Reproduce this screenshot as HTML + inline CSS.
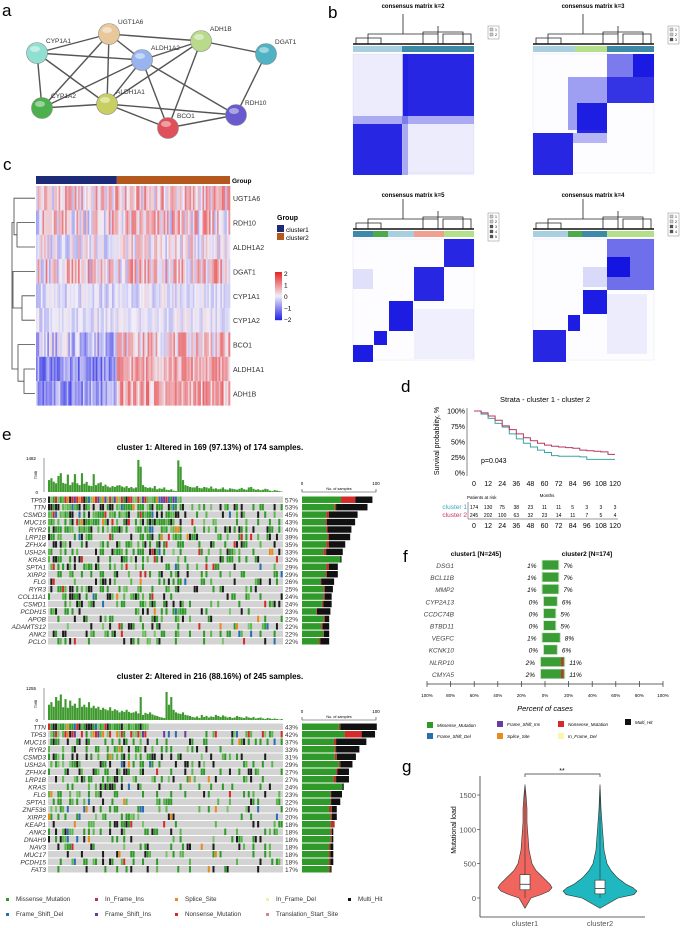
<!DOCTYPE html>
<html><head><meta charset="utf-8"><style>
body{margin:0;background:#fff}
svg{font-family:"Liberation Sans",sans-serif;display:block}
</style></head><body>
<svg id="fig" width="685" height="928" viewBox="0 0 685 928">
<rect x="0" y="0" width="685" height="928" fill="#fff"/>
<text x="2" y="16" font-size="17">a</text>
<text x="328" y="18" font-size="17">b</text>
<text x="3" y="170" font-size="17">c</text>
<text x="401" y="392" font-size="17">d</text>
<text x="2" y="440" font-size="17">e</text>
<text x="403" y="562" font-size="17">f</text>
<text x="402" y="772" font-size="17">g</text>
<g id="ga"></g>
<g id="gb"></g>
<g id="gc"></g>
<g id="gd"></g>
<g id="ge"></g>
<g id="gf"></g>
<g id="gg"></g>
</svg>
<script>
// ---------- data ----------
const netNames=["CYP1A1","UGT1A6","ALDH1A2","ADH1B","DGAT1","CYP1A2","ALDH1A1","BCO1","RDH10"];
const netX=[37,109,142,201,266,42,107,168,236];
const netY=[53,34,60,41,54,108,104,128,115];
const netCol=["#8fe0d0","#e8c79a","#98b4ef","#b8da8a","#4fb3c4","#4cb04c","#c8cf60","#e0505a","#6a5ad0"];
const netEdges=[[0,1],[0,2],[0,5],[0,6],[1,3],[1,2],[1,5],[1,6],[2,5],[2,6],[2,7],[2,8],[3,4],[3,2],[3,6],[3,7],[4,8],[5,6],[6,7],[6,8],[7,8]];

const hmGenes=["UGT1A6","RDH10","ALDH1A2","DGAT1","CYP1A1","CYP1A2","BCO1","ALDH1A1","ADH1B"];
const hmMean1=[0.3,0.2,0.0,0.3,-0.25,-0.2,-0.4,-1.0,-0.9];
const hmMean2=[0.4,0.3,0.1,0.4,-0.15,-0.1,0.4,0.7,0.7];
const hmAmp=[0.9,1.0,0.7,1.0,0.4,0.35,0.8,0.6,0.7];

const kmTimes=[0,6,12,18,24,30,36,42,48,54,60,66,72,78,84,90,96,102,108,114,120];
const kmC1=[100,95,88,80,74,63,55,48,42,37,33,28,27,27,27,26,22,22,22,22,22];
const kmC2=[100,97,92,85,76,70,63,57,52,48,45,43,42,41,40,37,36,35,34,30,30];
const kmTicks=[0,12,24,36,48,60,72,84,96,108,120];
const riskC1=[174,130,75,38,23,11,11,5,3,3,3];
const riskC2=[245,202,100,63,32,23,14,11,7,5,4];

const op1Genes=["TP53","TTN","CSMD3","MUC16","RYR2","LRP1B","ZFHX4","USH2A","KRAS","SPTA1","XIRP2","FLG","RYR3","COL11A1","CSMD1","PCDH15","APOB","ADAMTS12","ANK2","PCLO"];
const op1Pct=[57,53,45,43,40,39,35,33,32,29,29,26,25,24,24,23,22,22,22,22];
const op1Green=[55,46,34,33,34,36,34,30,54,34,33,26,30,30,28,20,30,27,30,24];
const op1Red=[20,2,4,2,2,2,4,4,0,4,2,1,2,2,2,1,2,2,1,2];
const op2Genes=["TTN","TP53","MUC16","RYR2","CSMD3","USH2A","ZFHX4","LRP1B","KRAS","FLG","SPTA1","ZNF536","XIRP2","KEAP1","ANK2","DNAH9","NAV3","MUC17","PCDH15","FAT3"];
const op2Pct=[43,42,37,33,31,29,27,27,24,23,22,20,20,18,18,18,18,18,18,17];
const op2Green=[52,60,45,46,46,52,48,44,57,40,40,38,40,40,40,40,38,38,38,38];
const op2Red=[2,24,3,2,3,2,2,4,0,1,1,4,2,6,2,2,2,2,2,2];
const tmb1=[520,600,450,380,700,820,400,360,760,300,420,780,380,300,820,360,440,280,260,780,300,380,420,260,320,240,200,260,220,280,300,240,200,260,180,220,160,200,1400,1100,300,220,180,200,160,260,120,160,140,200,100,80,120,60,40,1380,1100,520,300,260,220,200,200,260,180,160,220,200,160,240,140,160,120,140,200,120,100,160,140,120,100,140,180,120,100,200,220,140,100,120,80,100,140,120,60,40,80,60,40,20];
const tmb2=[600,700,520,900,760,1000,500,820,480,760,560,640,480,860,520,600,500,700,480,560,460,520,400,480,420,380,500,360,420,380,300,360,320,400,320,280,300,340,260,900,200,280,240,300,220,180,160,120,100,80,1100,600,900,400,300,260,240,300,200,180,160,120,100,140,80,200,120,160,100,140,120,200,160,120,180,140,100,120,80,100,160,120,100,80,140,100,80,120,60,80,100,60,40,80,60,40,60,40,20,40];

const fGenes=["DSG1","BCL11B","MMP2","CYP2A13","CCDC74B","BTBD11","VEGFC","KCNK10","NLRP10","CMYA5"];
const fPct1=[1,1,1,0,0,0,1,0,2,2];
const fPct2=[7,7,7,6,5,5,8,6,11,11];
const fTicks=["100%","80%","60%","40%","20%","0%","20%","40%","60%","80%","100%"];

const vLevels=[-150,0,50,100,150,200,300,400,500,700,900,1100,1300,1500,1650];
const vW1=[0,6,16,24,27,25,18,11,7,4,3,2,2,1,0];
const vW2=[0,18,34,37,33,26,17,11,7,4,3,2,1,0.5,0];
const vBox1=[120,200,340];
const vBox2=[60,140,260];
const vTicks=[0,500,1000,1500];

// ---------- helpers ----------
const NS='http://www.w3.org/2000/svg';
function mk(tag,at,name,par){
  const e=document.createElementNS(NS,tag);
  for(const k in at)e.setAttribute(k,at[k]);
  
  
  (par||document.getElementById('fig')).appendChild(e);return e;}
function tx(x,y,s,size,name,par,extra){const e=mk('text',Object.assign({x:x,y:y,'font-size':size},extra||{}),name,par);e.textContent=s;return e;}
function h(a,b){const x=Math.sin(a*12.9898+b*78.233)*43758.5453;return x-Math.floor(x);}

// ---------- a: network ----------
const GA=document.getElementById('ga');
netEdges.forEach(function(ed){mk('line',{x1:netX[ed[0]],y1:netY[ed[0]],x2:netX[ed[1]],y2:netY[ed[1]],stroke:'#555','stroke-width':1.4},'network-edge',GA);});
netNames.forEach(function(n,i){
  mk('circle',{cx:netX[i],cy:netY[i],r:10.5,fill:netCol[i],stroke:'#888','stroke-width':0.6},'node-'+n.toLowerCase(),GA);
  mk('ellipse',{cx:netX[i]-2,cy:netY[i]-4,rx:5,ry:3,fill:'#fff',opacity:0.45},'node-highlight',GA);
  tx(netX[i]+9,netY[i]-10,n,6.5,'node-label',GA,{fill:'#333'});
});

// ---------- b: consensus matrices ----------
const GB=document.getElementById('gb');
const cms=[
 {t:'consensus matrix k=2',x:353,y:54,s:121,bars:[[0,49,'#a8cfe0'],[49,121,'#3d8aa8']],leg:2,
  blocks:[[50,0,71,62,0.9],[0,70,49,51,0.9],[0,62,121,8,0.35],[49,0,6,121,0.3],[0,0,49,62,0.07],[50,70,71,51,0.07]]},
 {t:'consensus matrix k=3',x:533,y:54,s:121,bars:[[0,42,'#a8cfe0'],[42,74,'#b4e08c'],[74,121,'#3d8aa8']],leg:3,
  blocks:[[74,0,47,23,0.55],[100,0,21,23,0.9],[74,23,47,26,0.85],[35,23,39,53,0.4],[44,49,30,30,0.9],[0,79,40,42,0.9],[40,79,34,10,0.3]]},
 {t:'consensus matrix k=5',x:353,y:239,s:123,bars:[[0,20,'#3d8aa8'],[20,35,'#4caa4c'],[35,61,'#a8cfe0'],[61,91,'#f0a090'],[91,121,'#b4e08c']],leg:5,
  blocks:[[91,0,30,28,0.9],[61,28,30,34,0.9],[36,62,24,30,0.95],[21,92,13,14,0.95],[0,106,20,17,0.95],[0,30,20,20,0.12],[61,70,60,50,0.06]]},
 {t:'consensus matrix k=4',x:533,y:239,s:123,bars:[[0,35,'#a8cfe0'],[35,49,'#4caa4c'],[49,74,'#3d8aa8'],[74,121,'#b4e08c']],leg:4,
  blocks:[[74,0,47,51,0.6],[74,18,23,20,0.95],[50,51,24,24,0.95],[35,76,12,16,0.95],[0,91,33,32,0.9],[50,28,24,20,0.15],[74,55,40,60,0.07]]}
];
cms.forEach(function(c,ci){
  tx(c.x+60,c.y-46+(ci>1?4:0),c.t,6,'consensus-title',GB,{'text-anchor':'middle','font-weight':'bold'});
  const top=c.y-40, base=c.y-10;
  const p='M'+(c.x+15)+' '+base+'V'+(top+20)+'H'+(c.x+85)+'V'+(top+12)+'M'+(c.x+50)+' '+(top+20)+'V'+top+'M'+(c.x+85)+' '+(top+12)+'V'+base+
    'M'+(c.x+3)+' '+base+'V'+(top+24)+'H'+(c.x+28)+'V'+base+'M'+(c.x+70)+' '+base+'V'+(top+18)+'H'+(c.x+110)+'V'+base+'M'+(c.x+90)+' '+base+'V'+(base-10)+'H'+(c.x+118)+'V'+base;
  mk('path',{d:p,fill:'none',stroke:'#222','stroke-width':0.8},'consensus-dendrogram',GB);
  mk('line',{x1:c.x,y1:base,x2:c.x+121,y2:base,stroke:'#111','stroke-width':1.5},'dendrogram-leaves',GB);
  c.bars.forEach(function(b){mk('rect',{x:c.x+b[0],y:c.y-8,width:b[1]-b[0],height:6,fill:b[2]},'cluster-color-bar',GB);});
  mk('rect',{x:c.x,y:c.y,width:121,height:c.s-2,fill:'#fdfdff',stroke:'#e4e4f4','stroke-width':0.5},'consensus-matrix',GB);
  c.blocks.forEach(function(b){mk('rect',{x:c.x+b[0],y:c.y+b[1],width:b[2],height:b[3],fill:'#1010e0','fill-opacity':b[4]},'consensus-block',GB);});
  const lx=c.x+135, ly=c.y-46+ (ci>1?20:18);
  mk('rect',{x:lx,y:ly,width:11,height:c.leg*5+3,fill:'#fff',stroke:'#888','stroke-width':0.5},'consensus-legend',GB);
  for(let k=0;k<c.leg;k++){mk('rect',{x:lx+2,y:ly+2+k*5,width:3,height:3,fill:k<2?'#ccc':'#555',stroke:'#444','stroke-width':0.3},'legend-swatch',GB);tx(lx+7,ly+5+k*5,String(k+1),3.5,'legend-text',GB);}
});

// ---------- c: heatmap ----------
const GC=document.getElementById('gc');
const hx0=36,hx1=230,hy0=186,rh=24.4,nCol=120,split=50;
mk('rect',{x:hx0,y:176,width:(hx1-hx0)*split/nCol,height:8,fill:'#1c2a78'},'group-bar-cluster1',GC);
mk('rect',{x:hx0+(hx1-hx0)*split/nCol,y:176,width:(hx1-hx0)*(nCol-split)/nCol,height:8,fill:'#b4581e'},'group-bar-cluster2',GC);
tx(232,183,'Group',6.5,'group-bar-label',GC,{'font-weight':'bold'});
function hcol(v){v=Math.max(-2,Math.min(2,v));let r,g,b;
  if(v>=0){const t=v/2;r=240-10*t;g=238-198*t;b=248-208*t;}else{const t=-v/2;r=240-200*t;g=238-198*t;b=248-18*t;}
  return 'rgb('+Math.round(r)+','+Math.round(g)+','+Math.round(b)+')';}
const cw=(hx1-hx0)/nCol;
hmGenes.forEach(function(g,r){
  for(let c=0;c<nCol;c++){
    const m=c<split?hmMean1[r]:hmMean2[r];
    const v=m+(h(c,r+1)-0.5)*2*hmAmp[r];
    mk('rect',{x:(hx0+c*cw).toFixed(2),y:hy0+r*rh,width:(cw+0.3).toFixed(2),height:rh,fill:hcol(v)},'heatmap-cell',GC);
  }
  tx(233,hy0+r*rh+rh/2+3,g,7,'heatmap-row-label',GC,{fill:'#333'});
});
const ly=function(i){return hy0+i*rh+rh/2;};
const dp='M35 '+ly(4)+'H22V'+ly(5)+'H35'+'M35 '+ly(7)+'H24V'+ly(8)+'H35'+'M35 '+ly(6)+'H18V'+((ly(7)+ly(8))/2)+'H24'+
 'M35 '+ly(1)+'H17V'+ly(2)+'H35'+'M35 '+ly(0)+'H14V'+((ly(1)+ly(2))/2)+'H17'+'M35 '+ly(3)+'H13V'+((ly(4)+ly(5))/2)+'H22'+
 'M14 '+((ly(0)+ly(2))/2)+'H12V'+((ly(6)+ly(8))/2)+'H18';
mk('path',{d:dp,fill:'none',stroke:'#444','stroke-width':0.8},'row-dendrogram',GC);
tx(277,220,'Group',7,'legend-title',GC,{'font-weight':'bold'});
mk('rect',{x:277,y:225,width:7,height:7,fill:'#1c2a78'},'legend-swatch-cluster1',GC);
tx(286,232,'cluster1',6.5,'legend-label-cluster1',GC);
mk('rect',{x:277,y:233,width:7,height:7,fill:'#b4581e'},'legend-swatch-cluster2',GC);
tx(286,240,'cluster2',6.5,'legend-label-cluster2',GC);
for(let i=0;i<48;i++){mk('rect',{x:275,y:272+i,width:7,height:1.2,fill:hcol(2-i*4/47)},'color-scale-step',GC);}
['2','1','0','−1','−2'].forEach(function(s,i){tx(284,276+i*11.5,s,6.5,'color-scale-label',GC);});

// ---------- d: survival ----------
const GD=document.getElementById('gd');
const kx=function(t){return 474+t*141/120;}, ky=function(p){return 411+(100-p)*0.62;};
tx(545,402,'Strata  -  cluster 1  -  cluster 2',7.5,'legend-strata',GD,{'text-anchor':'middle'});
mk('line',{x1:467,y1:408,x2:467,y2:476,stroke:'#333','stroke-width':0.6},'y-axis',GD);
[100,75,50,25,0].forEach(function(p){tx(465,ky(p)+2.5,p+'%',7,'y-tick-label',GD,{'text-anchor':'end'});});
tx(439,441,'Survival probability, %',7,'y-axis-title',GD,{'text-anchor':'middle',transform:'rotate(-90 439 441)'});
kmTicks.forEach(function(t){tx(kx(t),486,String(t),7,'x-tick-label',GD,{'text-anchor':'middle'});});
function step(arr){let d='M'+kx(kmTimes[0])+' '+ky(arr[0]);for(let i=1;i<arr.length;i++){d+='H'+kx(kmTimes[i]).toFixed(1)+'V'+ky(arr[i]).toFixed(1);}return d;}
mk('path',{d:step(kmC1),fill:'none',stroke:'#3aa6a6','stroke-width':1},'km-curve-cluster1',GD);
mk('path',{d:step(kmC2),fill:'none',stroke:'#b8385e','stroke-width':1},'km-curve-cluster2',GD);
tx(481,463,'p=0.043',7,'p-value',GD);
tx(467,499,'Patients at risk',4.5,'risk-table-title',GD);
tx(547,497,'Months',4.5,'x-axis-title',GD,{'text-anchor':'middle'});
tx(467,509,'cluster 1',6.5,'risk-label-cluster1',GD,{'text-anchor':'end',fill:'#3aa6c0'});
tx(467,517,'cluster 2',6.5,'risk-label-cluster2',GD,{'text-anchor':'end',fill:'#c0385e'});
mk('line',{x1:468,y1:502,x2:468,y2:519,stroke:'#333','stroke-width':0.5},'risk-axis',GD);
kmTicks.forEach(function(t,i){
  tx(kx(t),509,String(riskC1[i]),5,'risk-count-c1',GD,{'text-anchor':'middle'});
  tx(kx(t),517,String(riskC2[i]),5,'risk-count-c2',GD,{'text-anchor':'middle'});
  tx(kx(t),528,String(t),7,'risk-x-tick',GD,{'text-anchor':'middle'});
});
mk('line',{x1:468,y1:519,x2:618,y2:519,stroke:'#333','stroke-width':0.5},'risk-x-axis',GD);

// ---------- e: oncoprints ----------
const GE=document.getElementById('ge');
const mutCols=['#2f9a2a','#5cb84c','#1c1c1c','#7cc46c','#d42a2a','#e88a1e','#2a6eb0','#6a3d9a'];
function oncoprint(o){
  tx(210,o.ty,o.title,8,'oncoprint-title',GE,{'text-anchor':'middle','font-weight':'bold'});
  mk('line',{x1:44,y1:o.tmbTop,x2:44,y2:o.tmbBot,stroke:'#333','stroke-width':0.5},'tmb-axis',GE);
  tx(36,o.tmbTop+2,o.tmbMaxLabel,4.5,'tmb-max-label',GE,{'text-anchor':'end'});
  tx(38,o.tmbBot+2,'0',4.5,'tmb-zero-label',GE,{'text-anchor':'end'});
  tx(37,(o.tmbTop+o.tmbBot)/2,'TMB',4,'tmb-axis-title',GE,{'text-anchor':'middle',transform:'rotate(-90 37 '+((o.tmbTop+o.tmbBot)/2)+')'});
  const n=o.tmb.length, bw=235/n;
  o.tmb.forEach(function(v,i){const hh=v/o.tmbMax*(o.tmbBot-o.tmbTop);mk('rect',{x:(48+i*bw).toFixed(2),y:(o.tmbBot-hh).toFixed(2),width:(bw*0.9).toFixed(2),height:hh.toFixed(2),fill:'#3e9a2e'},'tmb-bar',GE);});
  const rhh=(o.oBot-o.oTop)/o.genes.length;
  o.genes.forEach(function(g,r){
    const y=o.oTop+r*rhh;
    mk('rect',{x:48,y:y+0.5,width:235,height:rhh-1,fill:'#d3d3d3'},'oncoprint-row-bg',GE);
    for(let c=0;c<n;c++){
      let alt;
      if(r===0) alt=c<o.pct[0]/100*n*o.firstSpan;
      else {const boost=c<o.pct[0]/100*n?1.5:0.8;alt=h(c+o.seed,r)<o.pct[r]/100*boost;}
      if(!alt)continue;
      const q=h(r+o.seed,c*3+1);
      let col=q<0.45?mutCols[0]:q<0.62?mutCols[1]:q<0.85?mutCols[2]:q<0.9?mutCols[3]:q<0.94?mutCols[4]:q<0.97?mutCols[5]:mutCols[6];
      if(r===o.colorRow){col=mutCols[[0,1,3,4,5,6,7,2][Math.floor(h(c,99)*8)]];}
      mk('rect',{x:(48+c*bw).toFixed(2),y:y+0.5,width:(bw*0.85).toFixed(2),height:rhh-1,fill:col},'mutation-cell',GE);
    }
    tx(46,y+rhh-1.2,g,6.5,'gene-label',GE,{'text-anchor':'end','font-style':'italic',fill:'#333'});
    tx(285,y+rhh-1.2,o.pct[r]+'%',6.5,'gene-percent',GE,{fill:'#333'});
    const tot=o.pct[r]*o.N/100, sc=0.71;
    const gw=o.green[r]*sc, rw=o.red[r]*sc, bl=Math.max(0,(tot-o.green[r]-o.red[r]))*sc;
    mk('rect',{x:302,y:y+0.5,width:gw,height:rhh-1,fill:'#2f9a2a'},'sample-bar-missense',GE);
    mk('rect',{x:302+gw,y:y+0.5,width:rw,height:rhh-1,fill:r===o.colorRow?'#d42a2a':'#b03a2a'},'sample-bar-nonsense',GE);
    mk('rect',{x:302+gw+rw,y:y+0.5,width:bl,height:rhh-1,fill:'#111'},'sample-bar-multihit',GE);
  });
  mk('path',{d:'M302 '+(o.axY-3)+'V'+o.axY+'H376V'+(o.axY-3),fill:'none',stroke:'#333','stroke-width':0.6},'samples-axis',GE);
  tx(302,o.axY-7,'0',4.5,'samples-axis-min',GE,{'text-anchor':'middle'});
  tx(376,o.axY-7,'100',4.5,'samples-axis-max',GE,{'text-anchor':'middle'});
  tx(339,o.axY-2,'No. of samples',3.8,'samples-axis-title',GE,{'text-anchor':'middle'});
}
oncoprint({title:'cluster 1: Altered in 169 (97.13%) of 174 samples.',ty:450,tmbTop:458,tmbBot:492,tmbMax:1482,tmbMaxLabel:'1482',tmb:tmb1,oTop:496,oBot:645,genes:op1Genes,pct:op1Pct,green:op1Green,red:op1Red,N:174,axY:492,seed:0,firstSpan:1,colorRow:0});
oncoprint({title:'cluster 2: Altered in 216 (88.16%) of 245 samples.',ty:679,tmbTop:688,tmbBot:720,tmbMax:1255,tmbMaxLabel:'1255',tmb:tmb2,oTop:723,oBot:873,genes:op2Genes,pct:op2Pct,green:op2Green,red:op2Red,N:245,axY:720,seed:50,firstSpan:1,colorRow:1});
const eLeg=[['Missense_Mutation',8,902,'#2f9a2a'],['In_Frame_Ins',97,902,'#b03a4a'],['Splice_Site',177,902,'#e88a1e'],['In_Frame_Del',268,902,'#f4f0a0'],['Multi_Hit',350,902,'#111'],
 ['Frame_Shift_Del',8,917,'#2a6eb0'],['Frame_Shift_Ins',97,917,'#6a3d9a'],['Nonsense_Mutation',177,917,'#d42a2a'],['Translation_Start_Site',268,917,'#c88a8a']];
eLeg.forEach(function(l){mk('rect',{x:l[1]-2,y:l[2]-4,width:3,height:3,fill:l[3]},'legend-marker',GE);tx(l[1]+8,l[2]-1,l[0],6.3,'legend-label',GE,{fill:'#333'});});

// ---------- f ----------
const GF=document.getElementById('gf');
tx(476,556,'cluster1 [N=245]',6.5,'cluster1-header',GF,{'text-anchor':'middle','font-weight':'bold'});
tx(587,556,'cluster2 [N=174]',6.5,'cluster2-header',GF,{'text-anchor':'middle','font-weight':'bold'});
const fx0=545, fs=118/100;
fGenes.forEach(function(g,i){
  const y=565+i*12.1;
  tx(454,y+3,g,6.5,'gene-label',GF,{'text-anchor':'end','font-style':'italic',fill:'#444'});
  const w2=fPct2[i]*fs*1.25+3, w1=fPct1[i]*fs*1.25+1;
  mk('rect',{x:fx0-w1-1,y:y-5,width:w1+w2+2,height:10,fill:'#c8e0c0'},'bar-background',GF);
  mk('rect',{x:fx0-w1,y:y-4.5,width:w1,height:9,fill:'#3a9c34'},'bar-cluster1',GF);
  mk('rect',{x:fx0,y:y-4.5,width:w2,height:9,fill:'#3a9c34'},'bar-cluster2',GF);
  if(fPct2[i]>=10)mk('rect',{x:fx0+w2-3,y:y-4.5,width:2,height:9,fill:'#d42a2a'},'bar-nonsense',GF);
  tx(fx0-w1-6,y+3,fPct1[i]+'%',6.5,'pct-cluster1',GF,{'text-anchor':'end','font-style':'italic'});
  tx(fx0+w2+5,y+3,fPct2[i]+'%',6.5,'pct-cluster2',GF,{'font-style':'italic'});
});
mk('line',{x1:427,y1:684,x2:663,y2:684,stroke:'#333','stroke-width':0.8},'x-axis',GF);
fTicks.forEach(function(t,i){const x=427+i*23.6;mk('line',{x1:x,y1:681,x2:x,y2:687,stroke:'#333','stroke-width':0.7},'x-tick',GF);tx(x,697,t,4.5,'x-tick-label',GF,{'text-anchor':'middle'});});
tx(545,711,'Percent of cases',7.5,'x-axis-title',GF,{'text-anchor':'middle','font-style':'italic'});
const fLeg=[['Missense_Mutation',427,726,'#2f9a2a'],['Frame_Shift_Ins',497,725,'#6a3d9a'],['Nonsense_Mutation',558,725,'#d42a2a'],['Multi_Hit',625,723,'#111'],
 ['Frame_Shift_Del',427,737,'#2a6eb0'],['Splice_Site',497,737,'#e88a1e'],['In_Frame_Del',558,737,'#fbf5b0']];
fLeg.forEach(function(l){mk('rect',{x:l[1],y:l[2]-4,width:6,height:6,fill:l[3]},'legend-marker',GF);tx(l[1]+10,l[2]+1,l[0],4.5,'legend-label',GF,{'font-style':'italic'});});

// ---------- g: violin ----------
const GG=document.getElementById('gg');
const vy=function(v){return 898-v*(103/1500);};
function violin(cx,ws,col,name){
  let d='M'+cx+' '+vy(vLevels[0]);
  for(let i=0;i<vLevels.length;i++)d+='L'+(cx+ws[i]).toFixed(1)+' '+vy(vLevels[i]).toFixed(1);
  for(let i=vLevels.length-1;i>=0;i--)d+='L'+(cx-ws[i]).toFixed(1)+' '+vy(vLevels[i]).toFixed(1);
  mk('path',{d:d+'Z',fill:col,stroke:'#333','stroke-width':0.6,'stroke-linejoin':'round'},name,GG);
}
violin(525,vW1,'#f0655e','violin-cluster1');
violin(600,vW2,'#1fb8c0','violin-cluster2');
function box(cx,b,name){
  mk('line',{x1:cx,y1:vy(0),x2:cx,y2:vy(1600),stroke:'#333','stroke-width':0.6},name+'-whisker',GG);
  mk('rect',{x:cx-5,y:vy(b[2]),width:10,height:vy(b[0])-vy(b[2]),fill:'#fff',stroke:'#333','stroke-width':0.6},name,GG);
  mk('line',{x1:cx-5,y1:vy(b[1]),x2:cx+5,y2:vy(b[1]),stroke:'#333','stroke-width':0.8},name+'-median',GG);
}
box(525,vBox1,'boxplot-cluster1');
box(600,vBox2,'boxplot-cluster2');
mk('line',{x1:480,y1:776,x2:480,y2:917,stroke:'#333','stroke-width':0.8},'y-axis',GG);
mk('line',{x1:480,y1:917,x2:645,y2:917,stroke:'#333','stroke-width':0.8},'x-axis',GG);
vTicks.forEach(function(v){mk('line',{x1:477,y1:vy(v),x2:480,y2:vy(v),stroke:'#333','stroke-width':0.6},'y-tick',GG);tx(476,vy(v)+3,String(v),7.5,'y-tick-label',GG,{'text-anchor':'end',fill:'#555'});});
tx(456,830,'Mutational load',7,'y-axis-title',GG,{'text-anchor':'middle',transform:'rotate(-90 456 830)'});
tx(525,926,'cluster1',7.5,'x-label-cluster1',GG,{'text-anchor':'middle',fill:'#555'});
tx(600,926,'cluster2',7.5,'x-label-cluster2',GG,{'text-anchor':'middle',fill:'#555'});
mk('path',{d:'M525 777V774H600V777',fill:'none',stroke:'#333','stroke-width':0.7},'significance-bracket',GG);
tx(562,773,'**',7,'significance-stars',GG,{'text-anchor':'middle'});
</script>
</body></html>
